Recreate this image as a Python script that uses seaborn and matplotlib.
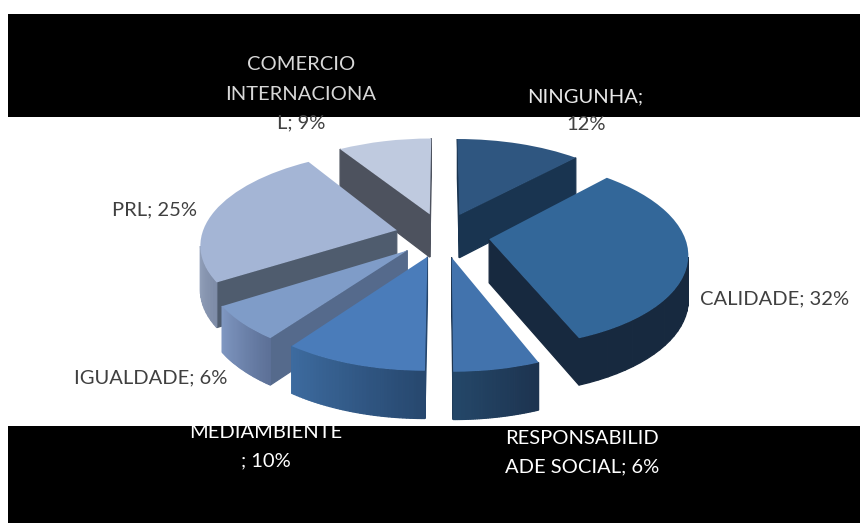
import numpy as np
import seaborn as sns
import matplotlib
matplotlib.use("Agg")
import matplotlib.pyplot as plt
from matplotlib.patches import Rectangle
from matplotlib.transforms import Transform

# chart values, clockwise from 12 o'clock
categories = ["NINGUNHA", "CALIDADE", "RESPONSABILIDAD SOCIAL", "MEDIAMBIENTE",
              "IGUALDADE", "PRL", "COMERCIO INTERNACIONAL"]
values = [12, 32, 6, 10, 6, 25, 9]

top_colors = ["#2F5680", "#336799", "#4273AD", "#4A7CBA", "#7F9CC8", "#A4B5D5", "#BFCADF"]
radial_colors = ["#193450", "#17293F", "#1E3550", "#25456B", "#556A8C", "#4F5C6E", "#4D525E"]
arc_left = ["#1F3C5C", "#17293F", "#244769", "#3D6B9F", "#8098C2", "#95A3BD", "#8D97AB"]
arc_right = ["#193450", "#17293F", "#1D3450", "#27486F", "#5D7198", "#7F8DA8", "#7F8DA8"]

# (text, x, y, colour) for each line of the wrapped labels
label_lines = [
    ("COMERCIO", 301, 64, "#D8D8D8"),
    ("INTERNACIONA", 301, 94, "#D8D8D8"),
    ("L; 9%", 301, 123, "#404040"),
    ("NINGUNHA;", 585, 97, "#E8E8E8"),
    ("12%", 586, 125, "#404040"),
    ("PRL; 25%", 155, 210, "#404040"),
    ("CALIDADE; 32%", 775, 299, "#404040"),
    ("IGUALDADE; 6%", 151, 378, "#404040"),
    ("MEDIAMBIENTE", 266, 432, "#FFFFFF"),
    ("; 10%", 266, 461, "#FFFFFF"),
    ("RESPONSABILID", 582, 438, "#FFFFFF"),
    ("ADE SOCIAL; 6%", 582, 467, "#FFFFFF"),
]

EXPLODE = 0.242
CX, CY = 442.5, 235
RX, RY = 195, 91.6
K = 0.138
N_STRIPS = 40


class PieProjection(Transform):
    """Perspective from the flat pie plane to figure pixels."""
    input_dims = 2
    output_dims = 2
    is_affine = False

    def transform_non_affine(self, values):
        xy = np.asarray(values, dtype=float)
        w = 1 + K * xy[:, 1]
        return np.column_stack([CX + RX * xy[:, 0] / w, CY - RY * xy[:, 1] / w])


def wall_depth(y):
    return 43.5 - 3.5 * y


def draw_wall(ax, proj, a, b, color, zorder):
    pa, pb = proj.transform_non_affine(np.array([a, b]))
    if pb[0] <= pa[0]:
        return  # faces away from the viewer
    da, db = wall_depth(a[1]), wall_depth(b[1])
    ax.fill([pa[0], pb[0], pb[0], pa[0]],
            [pa[1], pb[1], pb[1] + db, pa[1] + da],
            color=color, lw=0.9, zorder=zorder)


sns.set_theme(style="white")
plt.rcParams["font.family"] = ["Lato", "DejaVu Sans"]

fig = plt.figure(figsize=(8.6, 5.23), dpi=100)
ax = fig.add_axes([0, 0, 1, 1])

wedges, _ = ax.pie(values, explode=[EXPLODE] * len(values), colors=top_colors,
                   startangle=90, counterclock=False, wedgeprops={"linewidth": 0})
ax.set_aspect("auto")
ax.set_xlim(0, 860)
ax.set_ylim(523, 0)
ax.axis("off")

proj = PieProjection()

# black bands behind everything
ax.add_patch(Rectangle((8, 14), 852, 103, color="black", lw=0, zorder=0))
ax.add_patch(Rectangle((8, 426), 852, 97, color="black", lw=0, zorder=0))

# back slices first so the front ones paint over them
order = sorted(range(len(values)), key=lambda i: -wedges[i].center[1])
for rank, i in enumerate(order):
    wedge = wedges[i]
    cx, cy = wedge.center
    base_z = 2 + rank * 3
    t = np.radians(np.linspace(wedge.theta1, wedge.theta2, N_STRIPS + 1))
    rim = np.column_stack([cx + np.cos(t), cy + np.sin(t)])

    draw_wall(ax, proj, (cx, cy), rim[0], radial_colors[i], base_z)
    draw_wall(ax, proj, rim[-1], (cx, cy), radial_colors[i], base_z)

    px = proj.transform_non_affine(rim)[:, 0]
    visible = [j for j in range(N_STRIPS) if px[j + 1] > px[j]]
    if visible:
        shades = sns.blend_palette([arc_left[i], arc_right[i]], len(visible))
        for j, shade in zip(visible, shades):
            draw_wall(ax, proj, rim[j], rim[j + 1], shade, base_z + 1)

    wedge.set_transform(proj + ax.transData)
    wedge.set_zorder(base_z + 2)

for text, x, y, color in label_lines:
    ax.text(x, y, text, color=color, fontsize=14.5, ha="center", va="center", zorder=40)

fig.savefig("out.png", dpi=100, facecolor="white")
